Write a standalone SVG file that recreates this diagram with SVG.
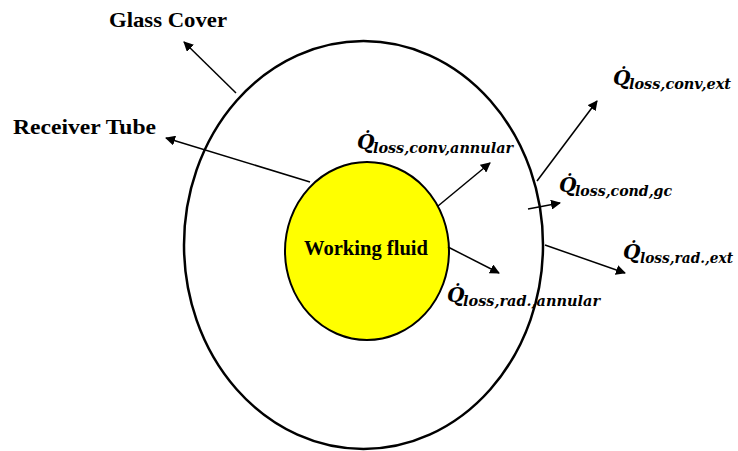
<svg xmlns="http://www.w3.org/2000/svg" width="738" height="451" viewBox="0 0 738 451">
<style>
.lbl{font-family:"Liberation Serif","Times New Roman",serif;font-weight:bold;font-size:21px;fill:#000}
.q{font-family:"DejaVu Serif","Liberation Serif",serif;font-style:italic;font-weight:bold;font-size:20px;fill:#000}
.sub{font-family:"DejaVu Serif","Liberation Serif",serif;font-style:italic;font-weight:bold;font-size:14px;fill:#000}
.arr{stroke:#000;stroke-width:1.5;fill:none;marker-end:url(#ah)}
</style>
<defs>
<marker id="ah" viewBox="0 0 10 10" refX="9" refY="5" markerWidth="10" markerHeight="10" markerUnits="userSpaceOnUse" orient="auto">
<path d="M0,0 L10,5 L0,10 z" fill="#000"/>
</marker>
</defs>
<rect width="738" height="451" fill="#fff"/>
<g id="glass-cover">
<ellipse cx="363.5" cy="245" rx="179.5" ry="204" fill="#fff" stroke="#000" stroke-width="2.5"/>
</g>
<g id="working-fluid">
<ellipse cx="367" cy="251" rx="82" ry="89" fill="#ffff00" stroke="#000" stroke-width="2"/>
<text class="lbl" x="366" y="255" text-anchor="middle" font-size="18" textLength="124" lengthAdjust="spacingAndGlyphs">Working fluid</text>
</g>
<g id="connectors">
<line class="arr" x1="236" y1="93" x2="184" y2="42"/>
<line class="arr" x1="310" y1="182" x2="166" y2="138"/>
<line class="arr" x1="438" y1="206" x2="490" y2="163"/>
<line class="arr" x1="537" y1="181" x2="597" y2="101"/>
<line class="arr" x1="528" y1="209" x2="560" y2="203"/>
<line class="arr" x1="448" y1="247" x2="499" y2="273"/>
<line class="arr" x1="545" y1="245" x2="625" y2="273"/>
</g>
<g id="labels">
<text class="lbl" x="109" y="27" textLength="118" lengthAdjust="spacingAndGlyphs">Glass Cover</text>
<text class="lbl" x="13" y="134" textLength="143" lengthAdjust="spacingAndGlyphs">Receiver Tube</text>
</g>
<g id="q-conv-annular">
<text class="q" x="357" y="149">Q̇</text>
<text class="sub" x="373" y="153" textLength="140" lengthAdjust="spacingAndGlyphs">loss,conv,annular</text>
</g>
<g id="q-conv-ext">
<text class="q" x="613" y="85">Q̇</text>
<text class="sub" x="629" y="89" textLength="102" lengthAdjust="spacingAndGlyphs">loss,conv,ext</text>
</g>
<g id="q-cond-gc">
<text class="q" x="559" y="192">Q̇</text>
<text class="sub" x="575" y="196" textLength="97" lengthAdjust="spacingAndGlyphs">loss,cond,gc</text>
</g>
<g id="q-rad-ext">
<text class="q" x="623" y="259">Q̇</text>
<text class="sub" x="640" y="263" textLength="93" lengthAdjust="spacingAndGlyphs">loss,rad.,ext</text>
</g>
<g id="q-rad-annular">
<text class="q" x="447" y="302">Q̇</text>
<text class="sub" x="463" y="306" textLength="137" lengthAdjust="spacingAndGlyphs">loss,rad.,annular</text>
</g>
</svg>
